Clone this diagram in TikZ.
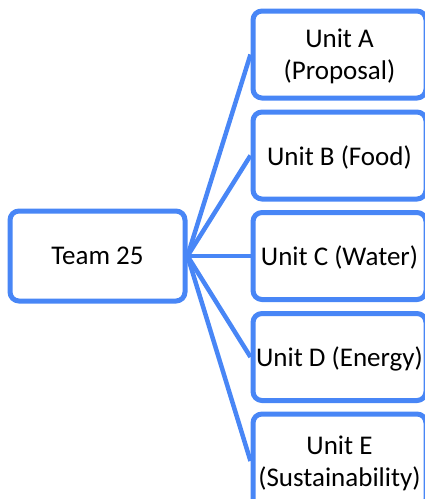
\documentclass[tikz,border=0pt]{standalone}
\usepackage{fontspec}
\setmainfont{Carlito}
\definecolor{boxblue}{RGB}{72,134,246}
\begin{document}
\begin{tikzpicture}[x=1pt,y=1pt,
  box/.style={draw=boxblue, line width=5pt, rounded corners=9pt, fill=white,
    align=center, inner sep=0pt, text depth=0pt, font=\fontsize{27}{32}\selectfont},
  unitbox/.style={box, minimum width=173pt, minimum height=87pt},
  link/.style={draw=boxblue, line width=4.5pt}]
\useasboundingbox (0,0) rectangle (425,-499);
\node[box, minimum width=175pt, minimum height=90pt] (team) at (97.5,-256) {Team 25};
\node[unitbox] (ua) at (339.5,-54.5) {Unit A\\(Proposal)};
\node[unitbox] (ub) at (339.5,-155.5) {Unit B (Food)};
\node[unitbox] (uc) at (339.5,-256) {Unit C (Water)};
\node[unitbox] (ud) at (339.5,-357) {Unit D (Energy)};
\node[unitbox, minimum height=94pt] (ue) at (339.5,-461) {Unit E\\(Sustainability)};
\foreach \u in {ua,ub,uc,ud,ue}
  \draw[link] (team.east) -- (\u.west);
\end{tikzpicture}
\end{document}
